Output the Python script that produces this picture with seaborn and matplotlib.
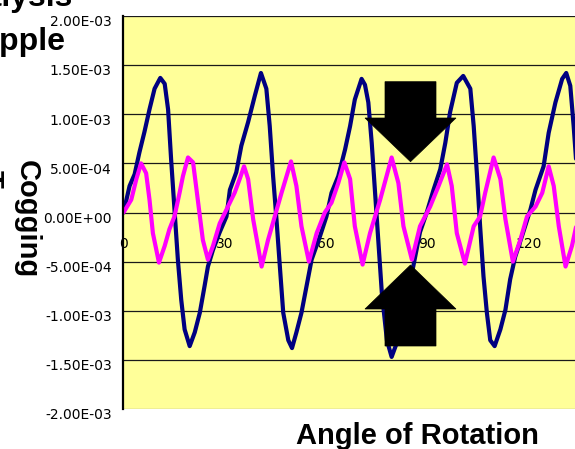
import numpy as np
import pandas as pd
import matplotlib
matplotlib.use("Agg")
import matplotlib.pyplot as plt
import matplotlib.transforms as mtransforms
from matplotlib.patches import Polygon
import seaborn as sns

# ---------------- data (values in units of 1E-03) ----------------
blue_angle = [0.0, 1.8, 3.3, 4.7, 6.2, 7.7, 9.2, 10.9, 12.2, 13.2, 14.1, 15.1, 16.1, 17.1, 18.1,
              19.6, 21.1, 22.6, 24.0, 25.0, 26.5, 28.5, 30.5, 31.5, 33.4, 34.9, 36.9, 38.9, 40.7,
              42.3, 43.3, 44.3, 45.3, 46.3, 47.3, 48.8, 49.9, 51.2, 52.7, 54.2, 55.7, 58.2, 60.1,
              61.6, 63.6, 65.6, 67.1, 68.5, 70.5, 71.5, 72.5, 73.5, 74.5, 75.5, 76.5, 78.0, 79.4,
              80.9, 82.5, 84.2, 85.8, 87.8, 89.8, 91.8, 93.8, 95.3, 96.7, 98.7, 100.6, 102.7,
              103.7, 104.7, 105.6, 106.6, 107.6, 108.6, 109.9, 111.6, 113.1, 114.5, 116.0, 118.0,
              120.5, 122.0, 124.4, 125.9, 127.9, 129.9, 131.1, 132.3, 133.3, 134.3]
blue_value = [0.00, 0.27, 0.39, 0.61, 0.82, 1.05, 1.26, 1.37, 1.31, 1.05, 0.54, 0.03, -0.48, -0.89,
              -1.19, -1.36, -1.22, -1.02, -0.75, -0.55, -0.38, -0.20, -0.04, 0.23, 0.41, 0.68, 0.92,
              1.19, 1.42, 1.26, 0.88, 0.37, -0.07, -0.55, -1.02, -1.30, -1.38, -1.22, -1.02, -0.75,
              -0.48, -0.24, -0.04, 0.20, 0.37, 0.64, 0.88, 1.15, 1.36, 1.30, 1.12, 0.71, 0.20,
              -0.31, -0.82, -1.30, -1.47, -1.33, -1.08, -0.80, -0.55, -0.20, 0.00, 0.23, 0.44,
              0.71, 1.02, 1.32, 1.39, 1.26, 0.88, 0.37, -0.14, -0.65, -1.02, -1.30, -1.36, -1.19,
              -0.99, -0.68, -0.45, -0.24, 0.03, 0.23, 0.47, 0.81, 1.12, 1.36, 1.42, 1.29, 0.88, 0.40]

pink_angle = [0.0, 2.3, 3.8, 5.2, 6.7, 7.7, 8.7, 10.5, 12.2, 13.6, 15.1, 16.6, 17.6, 19.1, 20.6,
              22.0, 23.5, 25.0, 26.5, 28.5, 30.5, 32.9, 34.4, 35.7, 36.9, 38.4, 40.9, 42.8, 44.8,
              46.8, 49.6, 51.2, 52.7, 54.9, 57.2, 59.6, 61.6, 63.6, 65.4, 67.1, 68.5, 70.8, 73.0,
              76.0, 79.4, 81.4, 82.9, 85.4, 87.8, 90.8, 93.3, 95.8, 97.2, 98.7, 101.1, 103.7,
              105.6, 107.1, 109.6, 111.6, 113.1, 115.3, 117.5, 119.5, 122.0, 124.0, 125.9, 127.4,
              128.9, 130.9, 132.8, 134.3]
pink_value = [0.00, 0.13, 0.34, 0.50, 0.40, 0.13, -0.21, -0.51, -0.34, -0.17, -0.04, 0.20, 0.37,
              0.56, 0.51, 0.13, -0.28, -0.48, -0.34, -0.11, 0.03, 0.20, 0.34, 0.47, 0.34, -0.07,
              -0.55, -0.28, -0.04, 0.20, 0.52, 0.27, -0.14, -0.50, -0.21, 0.00, 0.10, 0.30, 0.51,
              0.34, -0.14, -0.53, -0.21, 0.13, 0.56, 0.30, -0.14, -0.48, -0.14, 0.06, 0.27, 0.49,
              0.27, -0.21, -0.52, -0.14, -0.04, 0.20, 0.56, 0.34, -0.07, -0.50, -0.28, -0.04, 0.06,
              0.20, 0.47, 0.27, -0.14, -0.55, -0.34, -0.10]

x_ticks = [0, 30, 60, 90, 120]
y_ticks = [-2.0e-3, -1.5e-3, -1.0e-3, -5.0e-4, 0.0, 5.0e-4, 1.0e-3, 1.5e-3, 2.0e-3]

title_lines = ["Analysis", "Ripple"]
ylabel_lines = ["Cogging", "Torque"]
xlabel = "Angle of Rotation"

# ---------------- figure ----------------
sns.set_theme(style="white")
plt.rcParams["font.family"] = ["DejaVu Sans"]

W, H, DPI = 575, 449, 100
fig = plt.figure(figsize=(W / DPI, H / DPI), dpi=DPI)
fig.patch.set_facecolor("white")

left_px, top_px, bottom_px = 123.5, 16, 409
ax = fig.add_axes([left_px / W, 1 - bottom_px / H, 1 - left_px / W, (bottom_px - top_px) / H])
ax.set_facecolor("#FFFF99")
ax.set_axisbelow(True)

blue = pd.DataFrame({"angle": blue_angle, "value": np.array(blue_value) * 1e-3})
pink = pd.DataFrame({"angle": pink_angle, "value": np.array(pink_value) * 1e-3})

sns.lineplot(data=blue, x="angle", y="value", color="#000080", linewidth=3.0,
             estimator=None, sort=False, ax=ax)
sns.lineplot(data=pink, x="angle", y="value", color="#FF00FF", linewidth=3.0,
             estimator=None, sort=False, ax=ax)

px_per_deg = 3.377
ax.set_xlim(0, (W - left_px) / px_per_deg)
ax.set_ylim(-2.0e-3, 2.0e-3)

ax.set_yticks(y_ticks)
ax.set_yticklabels([f"{v:.2E}" for v in y_ticks])
ax.set_xticks(x_ticks)
ax.set_xticklabels([str(v) for v in x_ticks])
ax.set_xlabel("")
ax.set_ylabel("")

ax.yaxis.grid(True, color="#1a1a1a", linewidth=0.9)
ax.xaxis.grid(False)
ax.get_ygridlines()[0].set_color("#808080")

for s in ["top", "right"]:
    ax.spines[s].set_visible(False)
ax.spines["left"].set_color("black")
ax.spines["left"].set_linewidth(1.6)
ax.spines["bottom"].set_position(("data", 0))
ax.spines["bottom"].set_visible(False)

ax.tick_params(axis="y", length=0, pad=8.5, labelsize=10, labelcolor="black")
ax.tick_params(axis="x", length=0, pad=17.5, labelsize=10, labelcolor="black")
shift = mtransforms.ScaledTranslation(0, -3.5 / 72, fig.dpi_scale_trans)
for lab in ax.get_yticklabels():
    lab.set_transform(lab.get_transform() + shift)

# ---------------- block arrows (annotation shapes, pixel coords) ----------------
def px(pts):
    return [(x / W, 1 - y / H) for x, y in pts]

down_arrow = [(385, 81.7), (436, 81.7), (436, 118), (456, 118), (410.5, 161.7), (365, 118), (385, 118)]
up_arrow = [(410.5, 265), (456, 309), (436, 309), (436, 346), (385, 346), (385, 309), (365, 309)]
for shape in (down_arrow, up_arrow):
    ax.add_patch(Polygon(px(shape), closed=True, facecolor="black", edgecolor="black",
                         linewidth=0.5, transform=fig.transFigure, zorder=6, clip_on=False))

# ---------------- texts ----------------
bold = dict(family=["Liberation Sans", "DejaVu Sans"], weight="bold", color="black")
fig.text(73 / W, 1 - 6 / H, title_lines[0], ha="right", va="baseline", size=23, **bold)
fig.text(66 / W, 1 - 50 / H, title_lines[1], ha="right", va="baseline", size=23, **bold)

fig.text(18.5 / W, 1 - 219 / H, ylabel_lines[0], rotation=270, rotation_mode="anchor",
         ha="center", va="baseline", size=21, **bold)
fig.text(-17 / W, 1 - 218 / H, ylabel_lines[1], rotation=270, rotation_mode="anchor",
         ha="center", va="baseline", size=21, **bold)

fig.text(417 / W, 1 - 443.5 / H, xlabel, ha="center", va="baseline", size=21, **bold)

fig.savefig("out.png", dpi=DPI, facecolor="white")
